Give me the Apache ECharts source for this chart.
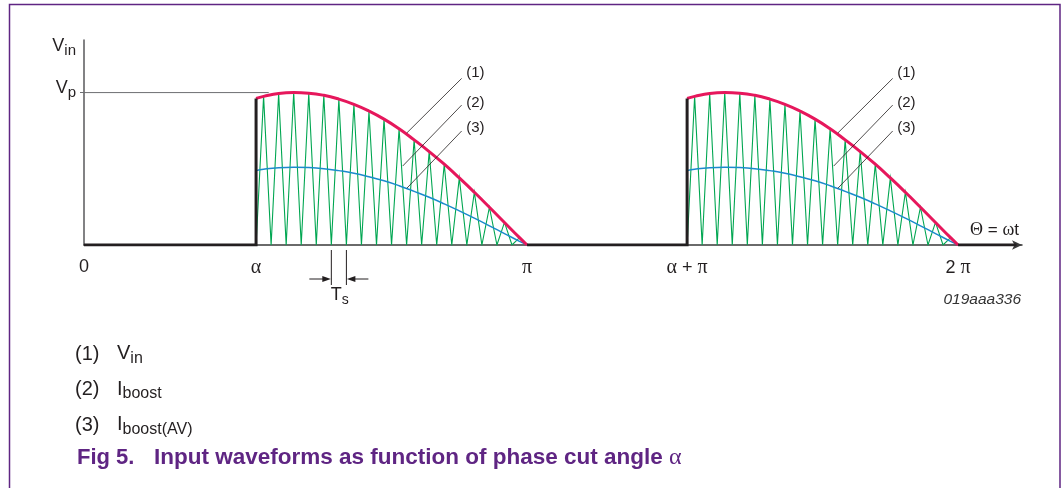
<!DOCTYPE html>
<html>
<head>
<meta charset="utf-8">
<script src="https://cdn.jsdelivr.net/npm/echarts@6/dist/echarts.min.js"></script>
<style>
  html, body { margin: 0; padding: 0; background: #ffffff; }
  #chart { width: 1064px; height: 488px; }
</style>
</head>
<body>
<div id="chart"></div>
<script>
// Fonts and colours
const SANS = '"Liberation Sans", Arial, Helvetica, sans-serif';
const SERIF = '"Liberation Serif", "Times New Roman", serif';
const PURPLE = '#5f2583';
const INK = '#231f20';

// Phase axis (radians); the axis origin sits a little before theta = 0
const PI = Math.PI;
const PHASE_CUT = 1.1666;                 // alpha, the phase cut angle
const X_MIN = -0.0875;
const X_MAX = 6.749;
const Y_MAX = 1.345;                      // in units of Vp
const xTickValues = [X_MIN, PHASE_CUT, PI, PHASE_CUT + PI, 2 * PI];
const xTickLabels = ['0', 'α', 'π', 'α + π', '2 π'];

// Boost converter: switching periods per conducting half-cycle
const SWITCH_PERIODS = 18;
// V_in at the cut instant (units of Vp)
const vinAtCut = 0.962;
// I_boost triangle peaks, one per switching period (they ride on V_in)
const boostPeaks = [0.975, 0.994, 1.000, 0.996, 0.982, 0.957, 0.923, 0.879, 0.826,
                    0.763, 0.690, 0.613, 0.530, 0.440, 0.346, 0.248, 0.148, 0.048];
// I_boost(AV): at the cut, at each peak instant, and at the zero crossing
const boostAvg = [0.488, 0.497, 0.507, 0.510, 0.508, 0.501, 0.488, 0.471, 0.448, 0.421,
                  0.389, 0.352, 0.313, 0.270, 0.224, 0.176, 0.126, 0.075, 0.024, 0.000];
// Horizontal guide at Vp ends a little past the cut
const vpGuideEnd = 1.259;

// Callouts (1)(2)(3): leader start, leader end on the curve, tag position
const calloutTags = ['(1)', '(2)', '(3)'];
const calloutStart = [[2.665, 1.093], [2.665, 0.918], [2.665, 0.748]];
const calloutEnd   = [[2.265, 0.735], [2.235, 0.518], [2.265, 0.372]];
const calloutTagAt = [[2.765, 1.128], [2.765, 0.935], [2.765, 0.767]];

// Legend rows under the chart
const legendNums = ['(1)', '(2)', '(3)'];
const legendMain = ['V', 'I', 'I'];
const legendSub  = ['in', 'boost', 'boost(AV)'];

const Ts = (PI - PHASE_CUT) / SWITCH_PERIODS;

// Build one conducting half-cycle starting at phase offset
function halfCycle(offset) {
  const start = offset + PHASE_CUT;
  const vin = [[start, vinAtCut]];
  const avg = [[start, boostAvg[0]]];
  const tri = [];
  boostPeaks.forEach((peak, k) => {
    const t0 = start + k * Ts;
    tri.push([t0, 0], [t0 + Ts / 2, peak]);
    vin.push([t0 + Ts / 2, peak]);
    avg.push([t0 + Ts / 2, boostAvg[k + 1]]);
  });
  tri.push([offset + PI, 0]);
  vin.push([offset + PI, 0]);
  avg.push([offset + PI, boostAvg[boostAvg.length - 1]]);
  return { vin, avg, tri };
}
const halves = [halfCycle(0), halfCycle(PI)];

// Rich-text styles: main glyph with a lowered subscript
function subRich(size, subSize, color, family, lift) {
  return {
    m: { fontSize: size, fontFamily: family, color: color, fill: color,
         lineHeight: size + lift, verticalAlign: 'top' },
    s: { fontSize: subSize, fontFamily: family, color: color, fill: color,
         lineHeight: subSize, verticalAlign: 'bottom' },
    g: { fontSize: size, fontFamily: SERIF, color: color, fill: color }
  };
}
const greek = s => s.replace(/([αβπΘω])/g, '{g|$1}');

const lineSeries = (name, data, color, width, z, smooth) => ({
  name, type: 'line', data, smooth: smooth || false, symbol: 'none', silent: true,
  z, lineStyle: { color, width, cap: 'butt', join: 'miter' }, animation: false
});

const series = [];
halves.forEach((h, i) => series.push(lineSeries('Iboost' + i, h.tri, '#00a651', 1.1, 2)));
halves.forEach((h, i) => series.push(lineSeries('IboostAV' + i, h.avg, '#1b8bcc', 1.5, 3, 0.5)));
halves.forEach((h, i) => series.push(lineSeries('Vin' + i, h.vin, '#e6175c', 3, 4, 0.5)));
// V_in off-intervals and the vertical cut edges
series.push(lineSeries('VinOff0', [[X_MIN, 0], [PHASE_CUT, 0], [PHASE_CUT, vinAtCut]], INK, 3, 5));
series.push(lineSeries('VinOff1', [[PI, 0], [PHASE_CUT + PI, 0], [PHASE_CUT + PI, vinAtCut]], INK, 3, 5));
series.push(lineSeries('VinOff2', [[2 * PI, 0], [X_MAX - 0.04, 0]], INK, 3, 5));
// Vp guide
series.push(lineSeries('VpGuide', [[X_MIN, 1], [vpGuideEnd, 1]], '#6d6e71', 1, 1));

// Callout leaders and tags, repeated on both half-cycles
const calloutRows = [];
[0, PI].forEach(off => {
  calloutTags.forEach((t, i) => {
    calloutRows.push([calloutStart[i][0] + off, calloutStart[i][1],
                      calloutEnd[i][0] + off, calloutEnd[i][1],
                      calloutTagAt[i][0] + off, calloutTagAt[i][1], i]);
  });
});
series.push({
  type: 'custom', name: 'callouts', silent: true, clip: false, z: 6, animation: false,
  encode: { x: [0, 2, 4], y: [1, 3, 5] },
  data: calloutRows,
  renderItem(params, api) {
    const p1 = api.coord([api.value(0), api.value(1)]);
    const p2 = api.coord([api.value(2), api.value(3)]);
    const pt = api.coord([api.value(4), api.value(5)]);
    return {
      type: 'group',
      children: [
        { type: 'line', shape: { x1: p1[0], y1: p1[1], x2: p2[0], y2: p2[1] },
          style: { stroke: INK, lineWidth: 0.8 } },
        { type: 'text', x: pt[0], y: pt[1],
          style: { text: calloutTags[api.value(6)], fontSize: 15, fontFamily: SANS,
                   fill: INK, align: 'center', verticalAlign: 'middle' } }
      ]
    };
  }
});

// Switching period marker (between two triangle troughs)
series.push({
  type: 'custom', name: 'tsMarker', silent: true, clip: false, z: 6, animation: false,
  encode: { x: [0, 1] },
  data: [[PHASE_CUT + 5 * Ts, PHASE_CUT + 6 * Ts]],
  renderItem(params, api) {
    const a = api.coord([api.value(0), 0]);
    const b = api.coord([api.value(1), 0]);
    const y0 = a[1];
    const ay = y0 + 34;
    const stroke = { stroke: INK, lineWidth: 1 };
    return {
      type: 'group',
      children: [
        { type: 'line', shape: { x1: a[0], y1: y0 + 5, x2: a[0], y2: y0 + 40 }, style: stroke },
        { type: 'line', shape: { x1: b[0], y1: y0 + 5, x2: b[0], y2: y0 + 40 }, style: stroke },
        { type: 'line', shape: { x1: a[0] - 22, y1: ay, x2: a[0] - 6, y2: ay }, style: stroke },
        { type: 'polygon', shape: { points: [[a[0] - 0.5, ay], [a[0] - 9, ay - 3], [a[0] - 9, ay + 3]] },
          style: { fill: INK } },
        { type: 'line', shape: { x1: b[0] + 22, y1: ay, x2: b[0] + 6, y2: ay }, style: stroke },
        { type: 'polygon', shape: { points: [[b[0] + 0.5, ay], [b[0] + 9, ay - 3], [b[0] + 9, ay + 3]] },
          style: { fill: INK } },
        { type: 'text', x: (a[0] + b[0]) / 2 + 1, y: y0 + 52,
          style: { text: '{m|T}{s|s}', align: 'center', verticalAlign: 'middle',
                   rich: subRich(18, 14, INK, SANS, 3) } }
      ]
    };
  }
});

const option = {
  animation: false,
  backgroundColor: '#ffffff',
  grid: { left: 84, right: 42, top: 40, bottom: 243, containLabel: false },
  xAxis: {
    type: 'value', min: X_MIN, max: X_MAX,
    splitLine: { show: false },
    axisLine: { show: true, onZero: false, symbol: ['none', 'arrow'], symbolSize: [7, 10],
                lineStyle: { color: '#3a3a3a', width: 1.5 } },
    axisTick: { show: false },
    axisLabel: {
      customValues: xTickValues, margin: 13, fontSize: 18, fontFamily: SANS, color: INK,
      formatter(v) {
        const i = xTickValues.findIndex(t => Math.abs(t - v) < 1e-6);
        return i < 0 ? '' : greek(xTickLabels[i]);
      },
      rich: { g: { fontSize: 20, fontFamily: SERIF, color: INK } }
    },
    name: greek('Θ = ωt'), nameLocation: 'end', nameGap: -3,
    nameTextStyle: { align: 'right', verticalAlign: 'bottom', padding: [0, 0, 6, 0],
                     fontSize: 17, fontFamily: SANS, color: INK,
                     rich: { g: { fontSize: 18, fontFamily: SERIF, color: INK } } }
  },
  yAxis: {
    type: 'value', min: 0, max: Y_MAX,
    splitLine: { show: false },
    axisLine: { show: true, onZero: false, lineStyle: { color: '#58595b', width: 1.5 } },
    axisTick: { show: true, customValues: [1], length: 4, lineStyle: { color: '#6d6e71', width: 1 } },
    axisLabel: {
      customValues: [1], margin: 8, formatter: () => '{m|V}{s|p}', padding: [0, 0, 6, 0],
      rich: subRich(18, 15, INK, SANS, 3)
    },
    name: '{m|V}{s|in}', nameLocation: 'end', nameGap: -8,
    nameTextStyle: { align: 'right', verticalAlign: 'middle', padding: [0, 8, 0, 0],
                     rich: subRich(18, 15, INK, SANS, 3) }
  },
  series,
  graphic: [
    { type: 'rect', silent: true, z: 0,
      shape: { x: 9.5, y: 4.5, width: 1050.5, height: 540 },
      style: { fill: 'none', stroke: PURPLE, lineWidth: 1.5 } },
    { type: 'text', silent: true, x: 1021, y: 300,
      style: { text: '019aaa336', fontSize: 15.5, fontStyle: 'italic', fontFamily: SANS,
               fill: '#333333', align: 'right', verticalAlign: 'middle' } },
    ...legendNums.map((n, i) => ({
      type: 'text', silent: true, x: 75, y: 354 + i * 35.5,
      style: { text: n, fontSize: 20, fontFamily: SANS, fill: INK, align: 'left', verticalAlign: 'middle' }
    })),
    ...legendMain.map((m, i) => ({
      type: 'text', silent: true, x: 117, y: 355 + i * 35.5,
      style: { text: '{m|' + m + '}{s|' + legendSub[i] + '}', align: 'left', verticalAlign: 'middle',
               rich: subRich(20, 16, INK, SANS, 3) }
    })),
    { type: 'text', silent: true, x: 77, y: 458,
      style: { text: 'Fig 5.', fontSize: 22, fontWeight: 'bold', fontFamily: SANS,
               fill: PURPLE, align: 'left', verticalAlign: 'middle' } },
    { type: 'text', silent: true, x: 154, y: 458,
      style: { text: 'Input waveforms as function of phase cut angle {g|α}',
               fontSize: 22.5, fontWeight: 'bold', fontFamily: SANS, fill: PURPLE,
               align: 'left', verticalAlign: 'middle',
               rich: { g: { fontSize: 24, fontFamily: SERIF, fill: PURPLE } } } }
  ]
};

const chart = echarts.init(document.getElementById('chart'), null, { renderer: 'canvas' });
chart.setOption(option);
</script>
</body>
</html>
